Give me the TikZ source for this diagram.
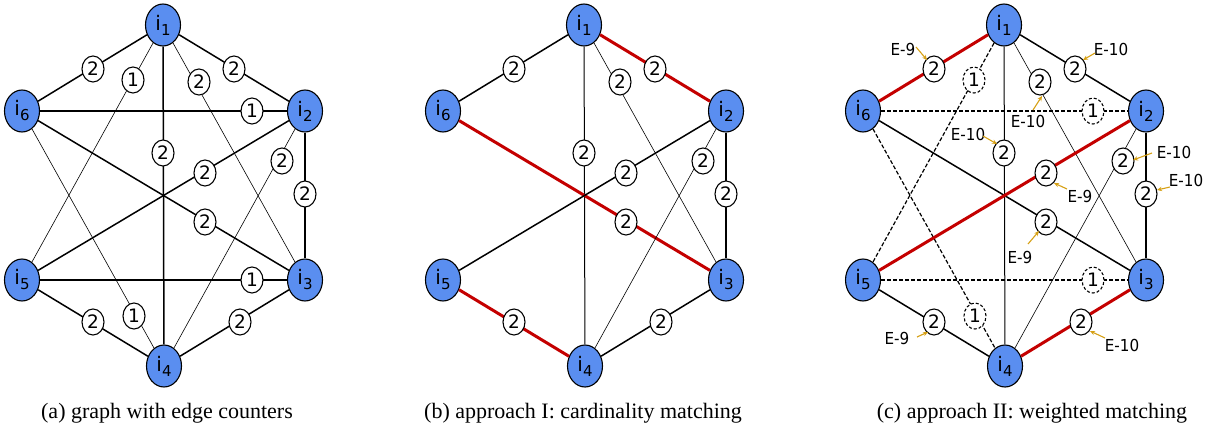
\documentclass[tikz,border=0pt]{standalone}
\usepackage{fontspec}
\setmainfont{Liberation Serif}
\newfontfamily\gfont{DejaVu Sans}
\usetikzlibrary{shapes.geometric,arrows.meta,calc}

\definecolor{nodeblue}{RGB}{90,142,240}
\definecolor{matchred}{RGB}{196,0,0}
\definecolor{hintgold}{RGB}{214,160,20}

% vertex label i_k
\newcommand\vlab[1]{\raisebox{1pt}{{\fontsize{20}{20}\selectfont i}\raisebox{-5pt}{\fontsize{15}{15}\selectfont #1}}}
% weight hint text, slightly narrowed
\newcommand\hinttext[1]{\scalebox{0.92}[1]{#1}}

\begin{document}
\begin{tikzpicture}[x=1pt,y=-1pt,
  vert/.style={ellipse, draw=black, line width=1.1pt, fill=nodeblue,
    minimum width=35pt, minimum height=42pt, inner sep=0pt, font=\gfont},
  cnt/.style={ellipse, draw=black, line width=1.1pt, fill=white,
    minimum width=22pt, minimum height=26pt, inner sep=0pt,
    font=\gfont\fontsize{18.5}{18.5}\selectfont},
  cntdash/.style={cnt, dash pattern=on 3pt off 2pt},
  heavy/.style={line width=1.5pt},
  light/.style={line width=0.6pt},
  mid/.style={line width=1pt},
  match/.style={line width=3pt, draw=matchred},
  unused/.style={line width=1.2pt, dash pattern=on 4pt off 2pt},
  hint/.style={font=\gfont\fontsize{16.5}{16.5}\selectfont, inner sep=0pt},
  hintarrow/.style={draw=hintgold, line width=1.1pt, -{Stealth[length=5pt,width=4.5pt]}},
  captext/.style={font=\fontsize{22}{24}\selectfont, inner sep=0pt, anchor=base}
]
\useasboundingbox (0,0) rectangle (1209,431);

% ---------------- (a) graph with edge counters ----------------
\begin{scope}
\node[vert] (a1) at (163,25)  {\vlab1};
\node[vert] (a2) at (305,111) {\vlab2};
\node[vert] (a3) at (305,280) {\vlab3};
\node[vert] (a4) at (164,366) {\vlab4};
\node[vert] (a5) at (22,280)  {\vlab5};
\node[vert] (a6) at (22,111)  {\vlab6};

\draw[heavy] (a1) -- (a6);
\draw[heavy] (a1) -- (a2);
\draw[heavy] (a1) -- (a4);
\draw[light] (a1) -- (a5);
\draw[light] (a1) -- (a3);
\draw[heavy] (a6) -- (a2);
\draw[heavy] (a6) -- (a3);
\draw[light] (a6) -- (a4);
\draw[heavy] (a2) -- (a3);
\draw[heavy] (a2) -- (a5);
\draw[light] (a2) -- (a4);
\draw[heavy] (a5) -- (a3);
\draw[heavy] (a5) -- (a4);
\draw[heavy] (a3) -- (a4);

\node[cnt] (la16) at (93,69)   {2};
\node[cnt] (la12) at (234,69)  {2};
\node[cnt] (la14) at (163,153) {2};
\node[cnt] (la15) at (133,80)  {1};
\node[cnt] (la13) at (199,82)  {2};
\node[cnt] (la62) at (252,111) {1};
\node[cnt] (la63) at (205,222) {2};
\node[cnt] (la64) at (134,316) {1};
\node[cnt] (la23) at (305,194) {2};
\node[cnt] (la25) at (205,173) {2};
\node[cnt] (la24) at (282,161) {2};
\node[cnt] (la53) at (252,280) {1};
\node[cnt] (la34) at (240,322) {2};
\node[cnt] (la54) at (93,322)  {2};
\end{scope}

% ---------------- (b) cardinality matching ----------------
\begin{scope}[xshift=421pt]
\node[vert] (b1) at (163,25)  {\vlab1};
\node[vert] (b2) at (305,111) {\vlab2};
\node[vert] (b3) at (305,280) {\vlab3};
\node[vert] (b4) at (164,366) {\vlab4};
\node[vert] (b5) at (22,280)  {\vlab5};
\node[vert] (b6) at (22,111)  {\vlab6};

\draw[heavy] (b1) -- (b6);
\draw[match] (b1) -- (b2);
\draw[mid]   (b1) -- (b4);
\draw[light] (b1) -- (b3);
\draw[match] (b6) -- (b3);
\draw[heavy] (b2) -- (b3);
\draw[heavy] (b2) -- (b5);
\draw[light] (b2) -- (b4);
\draw[match] (b5) -- (b4);
\draw[heavy] (b3) -- (b4);

\node[cnt] (lb16) at (93,69)   {2};
\node[cnt] (lb12) at (234,69)  {2};
\node[cnt] (lb14) at (163,153) {2};
\node[cnt] (lb13) at (199,82)  {2};
\node[cnt] (lb63) at (205,222) {2};
\node[cnt] (lb23) at (305,194) {2};
\node[cnt] (lb25) at (205,173) {2};
\node[cnt] (lb24) at (282,161) {2};
\node[cnt] (lb34) at (240,322) {2};
\node[cnt] (lb54) at (93,322)  {2};
\end{scope}

% ---------------- (c) weighted matching ----------------
\begin{scope}[xshift=841pt]
\node[vert] (c1) at (163,25)  {\vlab1};
\node[vert] (c2) at (305,111) {\vlab2};
\node[vert] (c3) at (305,280) {\vlab3};
\node[vert] (c4) at (164,366) {\vlab4};
\node[vert] (c5) at (22,280)  {\vlab5};
\node[vert] (c6) at (22,111)  {\vlab6};

\draw[match]  (c1) -- (c6);
\draw[heavy]  (c1) -- (c2);
\draw[mid]    (c1) -- (c4);
\draw[unused] (c1) -- (c5);
\draw[light]  (c1) -- (c3);
\draw[unused] (c6) -- (c2);
\draw[heavy]  (c6) -- (c3);
\draw[unused] (c6) -- (c4);
\draw[heavy]  (c2) -- (c3);
\draw[match]  (c2) -- (c5);
\draw[light]  (c2) -- (c4);
\draw[unused] (c5) -- (c3);
\draw[heavy]  (c5) -- (c4);
\draw[match]  (c3) -- (c4);

\node[cnt]     (lc16) at (93,69)   {2};
\node[cnt]     (lc12) at (234,69)  {2};
\node[cnt]     (lc14) at (163,153) {2};
\node[cntdash] (lc15) at (133,80)  {1};
\node[cnt]     (lc13) at (199,82)  {2};
\node[cntdash] (lc62) at (252,111) {1};
\node[cnt]     (lc63) at (205,222) {2};
\node[cntdash] (lc64) at (134,316) {1};
\node[cnt]     (lc23) at (305,194) {2};
\node[cnt]     (lc25) at (205,173) {2};
\node[cnt]     (lc24) at (282,161) {2};
\node[cntdash] (lc53) at (252,280) {1};
\node[cnt]     (lc34) at (240,322) {2};
\node[cnt]     (lc54) at (93,322)  {2};

% edge weights after the counters
\node[hint] (h16) at (62,49)   {\hinttext{E-9}};
\node[hint] (h12) at (270,49)  {\hinttext{E-10}};
\node[hint] (h13) at (187,121) {\hinttext{E-10}};
\node[hint] (h14) at (127,134) {\hinttext{E-10}};
\node[hint] (h24) at (333,152) {\hinttext{E-10}};
\node[hint] (h23) at (345,180) {\hinttext{E-10}};
\node[hint] (h25) at (239,196) {\hinttext{E-9}};
\node[hint] (h63) at (179,257) {\hinttext{E-9}};
\node[hint] (h54) at (56,338)  {\hinttext{E-9}};
\node[hint] (h34) at (281,345) {\hinttext{E-10}};

\coordinate (s16) at (75,47);   \coordinate (e16) at (86,60);
\coordinate (s12) at (254,53);  \coordinate (e12) at (242,60);
\coordinate (s13) at (192,110); \coordinate (e13) at (201,96);
\coordinate (s14) at (142,136); \coordinate (e14) at (156,144);
\coordinate (s24) at (311,153); \coordinate (e24) at (292,160);
\coordinate (s23) at (329,187); \coordinate (e23) at (316,190);
\coordinate (s25) at (226,189); \coordinate (e25) at (213,183);
\coordinate (s63) at (187,244); \coordinate (e63) at (198,231);
\coordinate (s54) at (76,337);  \coordinate (e54) at (87,332);
\coordinate (s34) at (264,338); \coordinate (e34) at (249,331);

\draw[hintarrow] (s16) -- (e16);
\draw[hintarrow] (s12) -- (e12);
\draw[hintarrow] (s13) -- (e13);
\draw[hintarrow] (s14) -- (e14);
\draw[hintarrow] (s24) -- (e24);
\draw[hintarrow] (s23) -- (e23);
\draw[hintarrow] (s25) -- (e25);
\draw[hintarrow] (s63) -- (e63);
\draw[hintarrow] (s54) -- (e54);
\draw[hintarrow] (s34) -- (e34);
\end{scope}

% ---------------- captions ----------------
\node[captext] (capa) at (167,418)  {(a) graph with edge counters};
\node[captext] (capb) at (583,418)  {(b) approach I: cardinality matching};
\node[captext] (capc) at (1032,418) {(c) approach II: weighted matching};
\end{tikzpicture}
\end{document}
